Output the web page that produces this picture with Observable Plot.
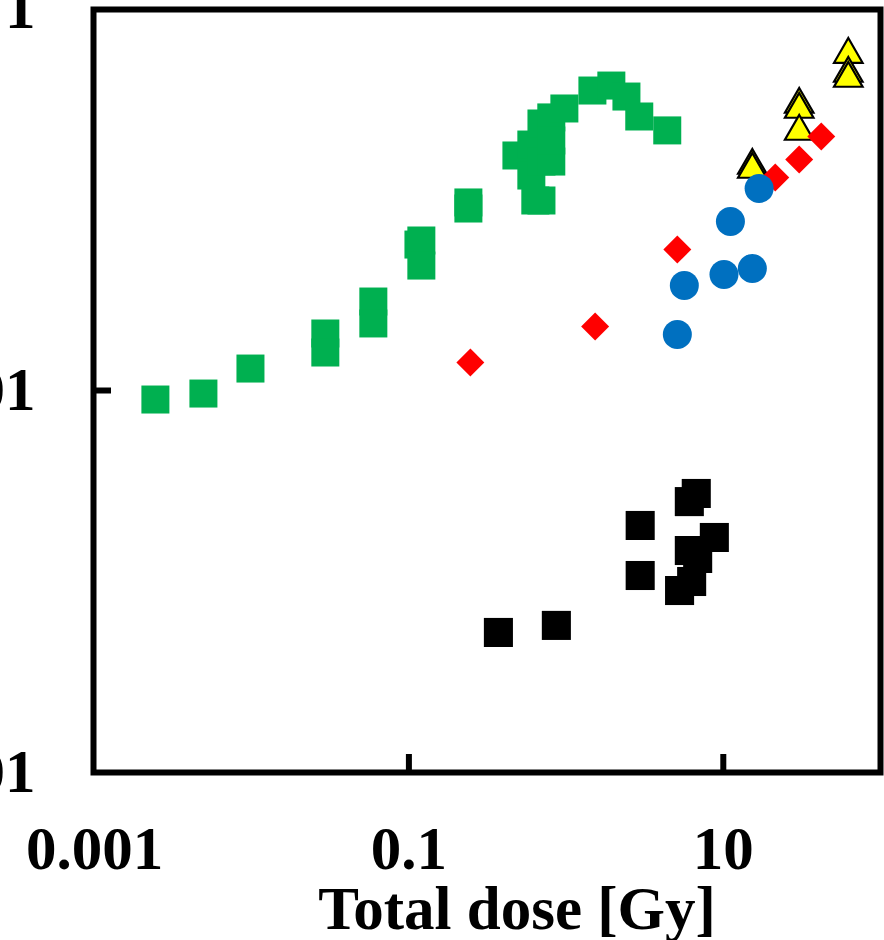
<!DOCTYPE html>
<html><head><meta charset="utf-8">
<script src="https://cdn.jsdelivr.net/npm/d3@7"></script>
<script src="https://cdn.jsdelivr.net/npm/@observablehq/plot@0.6"></script>
<style>html,body{margin:0;padding:0;background:#fff;overflow:hidden}svg{display:block}</style>
</head><body><div id="chart"></div>
<script>
// Green squares
const greenDose  = [0.00244, 0.00493, 0.00982, 0.0294, 0.0294, 0.0594, 0.0594, 0.115, 0.120, 0.120, 0.239, 0.239, 0.483, 0.601, 0.601, 0.697, 0.697, 0.697, 0.637, 0.805, 0.805, 0.805, 0.975, 1.47, 1.94, 2.42, 2.92, 4.40];
const greenValue = [0.00897, 0.00964, 0.01303, 0.01988, 0.01581, 0.02923, 0.02244, 0.0581, 0.0610, 0.0451, 0.0965, 0.0897, 0.170, 0.194, 0.1335, 0.250, 0.158, 0.0988, 0.0988, 0.269, 0.158, 0.2037, 0.2996, 0.372, 0.395, 0.346, 0.272, 0.230];
// Red diamonds
const redDose  = [0.246, 1.53, 5.10, 21.4, 30.4, 42.0];
const redValue = [0.01402, 0.02163, 0.0547, 0.1303, 0.162, 0.2138];
// Blue circles
const blueDose  = [5.10, 5.65, 10.1, 15.3, 11.1, 16.9];
const blueValue = [0.01964, 0.0355, 0.0405, 0.0435, 0.0767, 0.1142];
// Yellow triangles
const yellowDose  = [15.3, 15.3, 30.4, 30.4, 30.4, 62.4, 62.4, 62.4];
const yellowValue = [0.1507, 0.1436, 0.3144, 0.296, 0.227, 0.574, 0.4567, 0.430];
// Black squares
const blackDose  = [0.371, 0.867, 2.96, 2.96, 6.73, 6.08, 8.77, 6.08, 6.87, 6.29, 5.27];
const blackValue = [0.000541, 0.000589, 0.001965, 0.001075, 0.00289, 0.00262, 0.0017, 0.001453, 0.00132, 0.001, 0.000897];
// Axes
const xTicks = [0.001, 0.1, 10];
const xTickLabels = ["0.001", "0.1", "10"];
const yTicks = [1, 0.01, 0.0001];
const yTickLabels = ["1", "0.01", "0.0001"];
const xTitle = "Total dose [Gy]";

const pts = (xs, ys) => xs.map((x, i) => ({x, y: ys[i]}));
const font = "'Liberation Serif', 'Times New Roman', serif";

const chart = Plot.plot({
  width: 884,
  height: 940,
  marginLeft: 93,
  marginRight: 4,
  marginTop: 9,
  marginBottom: 168,
  style: {background: "#fff", fontFamily: font, overflow: "hidden"},
  x: {type: "log", domain: [0.001, 100], range: [94, 880], axis: null},
  y: {type: "log", domain: [0.0001, 1], range: [772, 8], axis: null},
  marks: [
    Plot.dot(pts(greenDose, greenValue), {x: "x", y: "y", symbol: "square", r: 15.8, fill: "#00B050", stroke: null}),
    Plot.dot(pts(blackDose, blackValue), {x: "x", y: "y", symbol: "square", r: 16.4, fill: "#000000", stroke: null}),
    Plot.dot(pts(yellowDose, yellowValue), {x: "x", y: "y", symbol: "triangle", r: 10.6, fill: "#FFFF00", stroke: "#000", strokeWidth: 2.2}),
    Plot.dot(pts(redDose, redValue), {x: "x", y: "y", symbol: "diamond2", r: 12.6, fill: "#FF0000", stroke: null}),
    Plot.dot(pts(blueDose, blueValue), {x: "x", y: "y", symbol: "circle", r: 14.5, fill: "#0070C0", stroke: null}),
    Plot.frame({stroke: "#000", strokeWidth: 6}),
    Plot.tickX(xTicks.slice(1), {x: d => d, stroke: "#000", strokeWidth: 6, insetTop: 745}),
    Plot.tickY(yTicks.slice(1, 2), {y: d => d, stroke: "#000", strokeWidth: 6, insetRight: 769}),
    Plot.text(xTicks, {x: d => d, text: (d, i) => xTickLabels[i], frameAnchor: "bottom", lineAnchor: "bottom", dy: 96, fontSize: 61, fontWeight: "bold", fill: "#000"}),
    Plot.text(yTicks, {y: d => d, text: (d, i) => yTickLabels[i], frameAnchor: "left", textAnchor: "end", dx: -58, fontSize: 61, fontWeight: "bold", fill: "#000"}),
    Plot.text([xTitle], {frameAnchor: "bottom", lineAnchor: "bottom", dy: 156, dx: 30, fontSize: 61, fontWeight: "bold", fill: "#000"})
  ]
});
document.getElementById("chart").appendChild(chart);
</script>
</body></html>
